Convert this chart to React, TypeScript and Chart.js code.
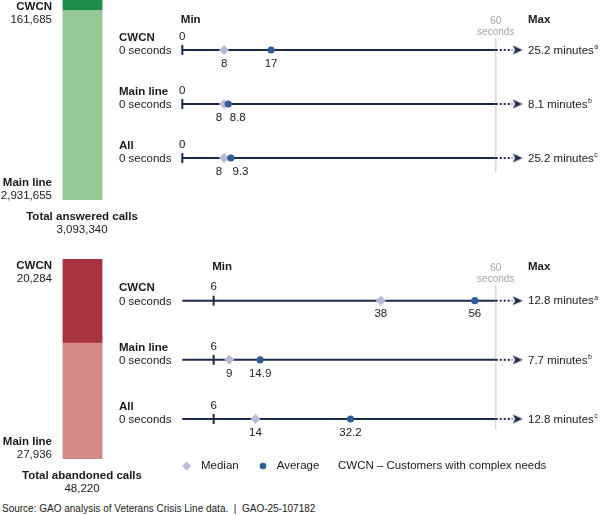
import React, { useEffect, useRef } from "react";
import { Chart, registerables } from "chart.js";

Chart.register(...registerables);

const FONT = '"Liberation Sans", Arial, Helvetica, sans-serif';

// ---------- data ----------
const ROWS = ["CWCN", "Main line", "All"];
const ROW_SUBLABEL = "0 seconds";
const FOOTNOTES = ["a", "b", "c"];
const AXIS_END = 60; // seconds
const SCALE_END = 66; // room for the "beyond 60 seconds" arrow

const ANSWERED_CWCN = 161685;
const ANSWERED_MAIN = 2931655;
const ANSWERED_TOTAL = 3093340;
const ABANDONED_CWCN = 20284;
const ABANDONED_MAIN = 27936;
const ABANDONED_TOTAL = 48220;

const ANSWERED_MIN = [0, 0, 0];
const ANSWERED_MEDIAN = [8, 8, 8];
const ANSWERED_AVERAGE = [17, 8.8, 9.3];
const ANSWERED_MAX = ["25.2 minutes", "8.1 minutes", "25.2 minutes"];

const ABANDONED_MIN = [6, 6, 6];
const ABANDONED_MEDIAN = [38, 9, 14];
const ABANDONED_AVERAGE = [56, 14.9, 32.2];
const ABANDONED_MAX = ["12.8 minutes", "7.7 minutes", "12.8 minutes"];

// ---------- styles ----------
const TEXT = "#1a1a1a";
const NAVY = "#1d2a4b";
const AVG = "#2f5b99";
const MED = "#b9bad9";
const GRAY_LINE = "#d8dae0";
const GRAY_TEXT = "#a5a5a5";
const FS = 11.5;
const bold = `bold ${FS}px ${FONT}`;
const normal = `${FS}px ${FONT}`;

const DOT_END = 63.2;
const ARROW_AT = 64.2;

function makeArrow(): HTMLCanvasElement {
  const c = document.createElement("canvas");
  c.width = 11;
  c.height = 11;
  const g = c.getContext("2d")!;
  g.fillStyle = NAVY;
  g.beginPath();
  g.moveTo(0.5, 1);
  g.lineTo(10.5, 5.5);
  g.lineTo(0.5, 10);
  g.lineTo(3, 5.5);
  g.closePath();
  g.fill();
  return c;
}

const fmt = (v: number) => String(v);

// ---------- bar (totals) ----------
function barConfig(cwcn: number, main: number, total: number, title: string, dark: string, light: string, padTop: number, padBottom: number): any {
  const labelsPlugin = {
    id: "barLabels",
    afterDatasetsDraw(chart: any) {
      const { ctx, chartArea } = chart;
      const y = chart.scales.y;
      const top = y.getPixelForValue(cwcn + main);
      const bottom = y.getPixelForValue(0);
      const lx = chartArea.left - 10.5;
      const cx = (chartArea.left + chartArea.right) / 2 - 0.5;
      ctx.save();
      ctx.fillStyle = TEXT;
      ctx.textBaseline = "middle";
      ctx.textAlign = "right";
      ctx.font = bold;
      ctx.fillText("CWCN", lx, top + 7);
      ctx.fillText("Main line", lx, bottom - 17);
      ctx.font = normal;
      ctx.fillText(cwcn.toLocaleString("en-US"), lx, top + 19.5);
      ctx.fillText(main.toLocaleString("en-US"), lx, bottom - 4.5);
      ctx.textAlign = "center";
      ctx.font = bold;
      ctx.fillText(title, cx, bottom + 16.8);
      ctx.font = normal;
      ctx.fillText(total.toLocaleString("en-US"), cx, bottom + 29.8);
      ctx.restore();
    },
  };
  return {
    type: "bar",
    data: {
      labels: [title],
      datasets: [
        { label: "Main line", data: [main], backgroundColor: light, borderWidth: 0, barPercentage: 1, categoryPercentage: 1 },
        { label: "CWCN", data: [cwcn], backgroundColor: dark, borderWidth: 0, barPercentage: 1, categoryPercentage: 1 },
      ],
    },
    options: {
      responsive: false,
      animation: false,
      events: [],
      layout: { padding: { left: 62.5, right: 67.5, top: padTop, bottom: padBottom } },
      scales: {
        x: { stacked: true, display: false },
        y: { stacked: true, display: false, min: 0, max: cwcn + main },
      },
      plugins: { legend: { display: false }, tooltip: { enabled: false } },
    },
    plugins: [labelsPlugin],
  };
}

// ---------- range plots ----------
type RangeSpec = {
  min: number[];
  median: number[];
  average: number[];
  max: string[];
  padTop: number;
  padBottom: number;
  headerGap: number;
  valueGap: number;
  gridFrom: number;
  gridTo: number;
  legend: boolean;
};

function rangeConfig(spec: RangeSpec): any {
  const arrow = makeArrow();
  const datasets: any[] = [];
  datasets.push({
    type: "scatter",
    label: "Average",
    data: spec.average.map((v, i) => ({ x: v, y: i })),
    pointStyle: "circle",
    pointRadius: 3.6,
    backgroundColor: AVG,
    borderWidth: 0,
    clip: false,
  });
  datasets.push({
    type: "scatter",
    label: "Median",
    data: spec.median.map((v, i) => ({ x: v, y: i })),
    pointStyle: "rectRot",
    pointRadius: 5,
    backgroundColor: MED,
    borderWidth: 0,
    clip: false,
  });
  datasets.push({
    type: "scatter",
    label: "Min",
    data: spec.min.map((v, i) => ({ x: v, y: i })),
    pointStyle: "line",
    rotation: 90,
    pointRadius: 5,
    borderColor: NAVY,
    borderWidth: 2,
    clip: false,
  });
  datasets.push({
    type: "scatter",
    label: "Max",
    data: ROWS.map((_, i) => ({ x: ARROW_AT, y: i })),
    pointStyle: arrow,
    pointRadius: 5,
    clip: false,
  });
  ROWS.forEach((_, i) => {
    datasets.push({
      type: "line",
      label: "range" + i,
      data: [{ x: 0, y: i }, { x: AXIS_END, y: i }],
      borderColor: NAVY,
      borderWidth: 2,
      pointRadius: 0,
      clip: false,
    });
    datasets.push({
      type: "line",
      label: "beyond" + i,
      data: [{ x: AXIS_END, y: i }, { x: DOT_END, y: i }],
      borderColor: NAVY,
      borderWidth: 2,
      borderDash: [2, 2],
      pointRadius: 0,
      clip: false,
    });
  });
  datasets.push({
    type: "line",
    label: "60 seconds",
    data: [{ x: AXIS_END, y: spec.gridFrom }, { x: AXIS_END, y: spec.gridTo }],
    borderColor: GRAY_LINE,
    borderWidth: 1.5,
    pointRadius: 0,
    clip: false,
  });

  const labelsPlugin = {
    id: "rangeLabels",
    afterDatasetsDraw(chart: any) {
      const { ctx } = chart;
      const xs = chart.scales.x;
      const ys = chart.scales.y;
      const px = (v: number) => xs.getPixelForValue(v);
      const py = (v: number) => ys.getPixelForValue(v);
      const x0 = px(0);
      const x60 = px(AXIS_END);
      const maxX = x60 + 32.3;
      const hy = py(0) - spec.headerGap;
      ctx.save();
      ctx.textBaseline = "middle";
      ctx.fillStyle = TEXT;
      ctx.textAlign = "left";
      ctx.font = bold;
      ctx.fillText("Min", px(spec.min[0]) - 1.5, hy);
      ctx.fillText("Max", maxX, hy);
      ctx.font = `10px ${FONT}`;
      ctx.fillStyle = GRAY_TEXT;
      ctx.textAlign = "center";
      ctx.fillText("60", x60, hy + 1);
      ctx.fillText("seconds", x60, hy + 12);

      ROWS.forEach((name, i) => {
        const ry = py(i);
        ctx.fillStyle = TEXT;
        ctx.textAlign = "left";
        ctx.font = bold;
        ctx.fillText(name, x0 - 63.3, ry - 12.5);
        ctx.font = normal;
        ctx.fillText(ROW_SUBLABEL, x0 - 63.3, ry + 1);
        ctx.textAlign = "center";
        ctx.fillText(fmt(spec.min[i]), px(spec.min[i]), ry - 13.5);

        const mx = px(spec.median[i]);
        const ax = px(spec.average[i]);
        const mt = fmt(spec.median[i]);
        const at = fmt(spec.average[i]);
        const wm = ctx.measureText(mt).width;
        const wa = ctx.measureText(at).width;
        const vy = ry + spec.valueGap;
        if (mx + wm / 2 + 3 > ax - wa / 2) {
          ctx.textAlign = "right";
          ctx.fillText(mt, mx - 2, vy);
          ctx.textAlign = "left";
          ctx.fillText(at, ax + 1.5, vy);
        } else {
          ctx.fillText(mt, mx, vy);
          ctx.fillText(at, ax, vy);
        }

        ctx.textAlign = "left";
        ctx.font = normal;
        ctx.fillText(spec.max[i], maxX, ry + 0.5);
        const w = ctx.measureText(spec.max[i]).width;
        ctx.font = `7px ${FONT}`;
        ctx.fillText(FOOTNOTES[i], maxX + w + 0.5, ry - 3);
      });

      if (spec.legend) {
        const ly = py(ROWS.length - 1) + 47;
        ctx.fillStyle = MED;
        ctx.beginPath();
        const dx = x0 + 4.4;
        ctx.moveTo(dx, ly - 4.5);
        ctx.lineTo(dx + 4.5, ly);
        ctx.lineTo(dx, ly + 4.5);
        ctx.lineTo(dx - 4.5, ly);
        ctx.closePath();
        ctx.fill();
        ctx.fillStyle = AVG;
        ctx.beginPath();
        ctx.arc(x0 + 80.7, ly, 3.3, 0, Math.PI * 2);
        ctx.fill();
        ctx.fillStyle = TEXT;
        ctx.font = normal;
        ctx.textAlign = "left";
        ctx.fillText("Median", x0 + 18.7, ly);
        ctx.fillText("Average", x0 + 94.4, ly);
        ctx.fillText("CWCN \u2013 Customers with complex needs", x0 + 155.7, ly);
      }
      ctx.restore();
    },
  };

  // pixel span of 0..60 s is 313.4 px; extend scale to SCALE_END keeping that ratio
  const pxPerSec = 313.4 / AXIS_END;
  const rightPad = 490 - 72.3 - pxPerSec * SCALE_END;

  return {
    type: "scatter",
    data: { datasets },
    options: {
      responsive: false,
      animation: false,
      events: [],
      layout: { padding: { left: 72.3, right: rightPad, top: spec.padTop, bottom: spec.padBottom } },
      scales: {
        x: { type: "linear", display: false, min: 0, max: SCALE_END },
        y: { type: "linear", display: false, reverse: true, min: 0, max: ROWS.length - 1 },
      },
      plugins: { legend: { display: false }, tooltip: { enabled: false } },
    },
    plugins: [labelsPlugin],
  };
}

function ChartCanvas(props: { left: number; top: number; width: number; height: number; make: () => any }) {
  const ref = useRef<HTMLCanvasElement>(null);
  useEffect(() => {
    const chart = new Chart(ref.current!, props.make());
    return () => chart.destroy();
  }, []);
  return (
    <canvas
      ref={ref}
      width={props.width}
      height={props.height}
      style={{ position: "absolute", left: props.left, top: props.top, width: props.width, height: props.height }}
    />
  );
}

export default function App() {
  return (
    <div style={{ position: "absolute", left: 0, top: 0, width: 600, height: 515, background: "#fff", overflow: "hidden", fontFamily: FONT }}>
      <ChartCanvas
        left={110}
        top={0}
        width={490}
        height={240}
        make={() =>
          rangeConfig({
            min: ANSWERED_MIN,
            median: ANSWERED_MEDIAN,
            average: ANSWERED_AVERAGE,
            max: ANSWERED_MAX,
            padTop: 50,
            padBottom: 82,
            headerGap: 30,
            valueGap: 14,
            gridFrom: -0.22,
            gridTo: 2.28,
            legend: false,
          })
        }
      />
      <ChartCanvas
        left={110}
        top={245}
        width={490}
        height={240}
        make={() =>
          rangeConfig({
            min: ABANDONED_MIN,
            median: ABANDONED_MEDIAN,
            average: ABANDONED_AVERAGE,
            max: ABANDONED_MAX,
            padTop: 55.7,
            padBottom: 66,
            headerGap: 33.7,
            valueGap: 13.5,
            gridFrom: -0.27,
            gridTo: 2.18,
            legend: true,
          })
        }
      />
      <ChartCanvas
        left={0}
        top={0}
        width={170}
        height={240}
        make={() => barConfig(ANSWERED_CWCN, ANSWERED_MAIN, ANSWERED_TOTAL, "Total answered calls", "#1e8c4c", "#97c697", 0, 40)}
      />
      <ChartCanvas
        left={0}
        top={245}
        width={170}
        height={255}
        make={() => barConfig(ABANDONED_CWCN, ABANDONED_MAIN, ABANDONED_TOTAL, "Total abandoned calls", "#a8323e", "#d38a86", 14, 41)}
      />
      <div
        style={{
          position: "absolute",
          left: 2,
          top: 502,
          fontSize: 10,
          lineHeight: "14px",
          color: TEXT,
          whiteSpace: "pre",
        }}
      >
        {"Source: GAO analysis of Veterans Crisis Line data.  |  GAO-25-107182"}
      </div>
    </div>
  );
}
